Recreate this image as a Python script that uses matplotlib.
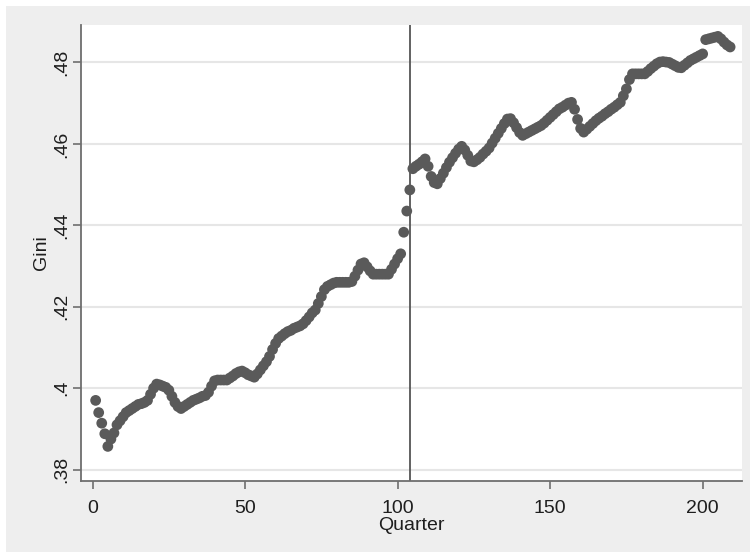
import matplotlib
matplotlib.use('Agg')
import matplotlib.pyplot as plt
from matplotlib.patches import Rectangle
from matplotlib.ticker import FuncFormatter

# Gini coefficient by quarter
quarter = list(range(1, 210))
gini = [
    .3970, .3940, .3914, .3888, .3857, .3875, .3890, .3910, .3920, .3930,
    .3940, .3945, .3950, .3955, .3960, .3962, .3965, .3970, .3985, .4000,
    .4010, .4008, .4005, .4002, .3995, .3980, .3965, .3955, .3950, .3955,
    .3960, .3965, .3970, .3973, .3976, .3980, .3982, .3990, .4005, .4018,
    .4020, .4020, .4020, .4020, .4025, .4030, .4036, .4040, .4042, .4038,
    .4033, .4030, .4027, .4035, .4045, .4055, .4065, .4078, .4095, .4110,
    .4122, .4128, .4134, .4139, .4142, .4147, .4150, .4153, .4158, .4166,
    .4175, .4185, .4192, .4208, .4225, .4242, .4250, .4254, .4258, .4260,
    .4260, .4260, .4260, .4260, .4262, .4275, .4290, .4305, .4308, .4298,
    .4288, .4280, .4280, .4280, .4280, .4280, .4280, .4292, .4305, .4318,
    .4330, .4383, .4435, .4487, .4539, .4545, .4550, .4556, .4563, .4545,
    .4520, .4505, .4502, .4515, .4528, .4542, .4555, .4566, .4577, .4587,
    .4594, .4585, .4572, .4558, .4556, .4561, .4567, .4575, .4582, .4590,
    .4602, .4614, .4626, .4638, .4650, .4661, .4662, .4652, .4640, .4628,
    .4621, .4625, .4629, .4633, .4637, .4641, .4645, .4651, .4658, .4665,
    .4672, .4679, .4686, .4690, .4695, .4700, .4702, .4685, .4660, .4638,
    .4629, .4636, .4643, .4650, .4657, .4663, .4668, .4674, .4679, .4685,
    .4690, .4696, .4702, .4718, .4735, .4758, .4772, .4772, .4772, .4772,
    .4772, .4778, .4785, .4791, .4797, .4801, .4802, .4801, .4800, .4796,
    .4792, .4788, .4787, .4793, .4799, .4805, .4809, .4813, .4817, .4821,
    .4856, .4858, .4860, .4862, .4864, .4858, .4850, .4843, .4838,
]
break_quarter = 104

x_ticks = [0, 50, 100, 150, 200]
y_ticks = [.38, .40, .42, .44, .46, .48]

BG = '#eeeeee'
DOT = '#5a5a5a'
AXIS = '#6e6e6e'
GRID = '#e6e6e6'
INK = '#1e1e1e'

plt.rcParams['font.family'] = ['Liberation Sans', 'DejaVu Sans']

fig = plt.figure(figsize=(7.5, 5.52), dpi=100, facecolor='white')
fig.patches.append(Rectangle((6 / 750, 0), 1, 1 - 6 / 552,
                             transform=fig.transFigure, facecolor=BG,
                             edgecolor='none', zorder=-10))

ax = fig.add_axes([81 / 750, 1 - 481 / 552, (742 - 81) / 750, (481 - 25) / 552])
ax.set_facecolor('white')

ax.scatter(quarter, gini, s=60, color=DOT, edgecolors='none', zorder=3)
ax.axvline(break_quarter, color='#555555', linewidth=1.3, zorder=2)

ax.set_xlim(-3.8, 212.9)
ax.set_ylim(0.3772, 0.4892)
ax.set_xticks(x_ticks)
ax.set_yticks(y_ticks)
ax.yaxis.set_major_formatter(FuncFormatter(lambda v, _: f'{v:.2f}'.lstrip('0').rstrip('0')))
ax.grid(axis='y', color=GRID, linewidth=1.5, zorder=0)
ax.set_axisbelow(True)

for side in ['top', 'right']:
    ax.spines[side].set_visible(False)
for side in ['left', 'bottom']:
    ax.spines[side].set_color(AXIS)
    ax.spines[side].set_linewidth(1.3)

ax.tick_params(direction='out', length=6, width=1.2, color=AXIS,
               labelsize=14, labelcolor=INK)
ax.tick_params(axis='x', pad=7.5)
ax.tick_params(axis='y', pad=2)
for lbl in ax.get_yticklabels():
    lbl.set_rotation(90)
    lbl.set_va('center')

ax.set_xlabel('Quarter', fontsize=14, color=INK, labelpad=0)
ax.set_ylabel('Gini', fontsize=14, color=INK, labelpad=2)

fig.savefig('out.png', dpi=100, facecolor='white')
